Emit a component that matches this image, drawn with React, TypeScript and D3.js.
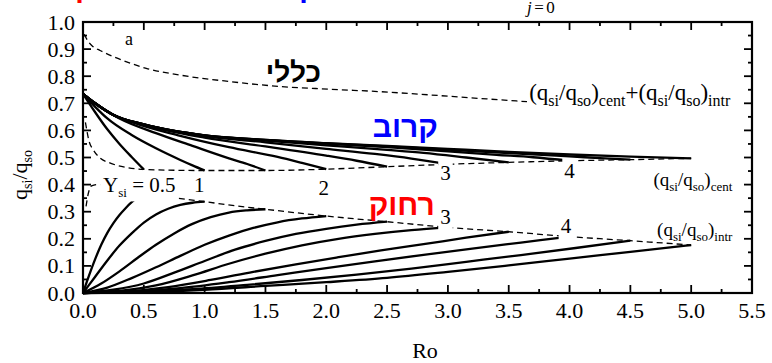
import React, { useEffect, useRef } from "react";
import * as d3 from "d3";

type Pt = [number, number];

// Axis ticks
const xTickValues = [0, 0.5, 1, 1.5, 2, 2.5, 3, 3.5, 4, 4.5, 5, 5.5];
const xMinorValues = [0.25, 0.75, 1.25, 1.75, 2.25, 2.75, 3.25, 3.75, 4.25, 4.75, 5.25];
const yTickValues = [0, 0.1, 0.2, 0.3, 0.4, 0.5, 0.6, 0.7, 0.8, 0.9, 1.0];
const yMinorValues = [0.05, 0.15, 0.25, 0.35, 0.45, 0.55, 0.65, 0.75, 0.85, 0.95];

// Central branch (q_si/q_so)_cent versus Ro, one array per Y_si (0.5 ... 5)
const cent05: Pt[] = [[0, 0.735], [0.1, 0.667], [0.2, 0.604], [0.3, 0.55], [0.4, 0.502], [0.5, 0.456]];
const cent10: Pt[] = [[0, 0.735], [0.1, 0.687], [0.2, 0.644], [0.4, 0.583], [0.6, 0.534], [0.8, 0.491], [0.9, 0.471], [1.0, 0.452]];
const cent15: Pt[] = [[0, 0.735], [0.1, 0.699], [0.3, 0.644], [0.6, 0.59], [0.9, 0.543], [1.2, 0.497], [1.35, 0.476], [1.5, 0.452]];
const cent20: Pt[] = [[0, 0.735], [0.1, 0.7], [0.2, 0.67], [0.4, 0.631], [0.8, 0.58], [1.2, 0.538], [1.6, 0.502], [1.8, 0.48], [2.0, 0.457]];
const cent25: Pt[] = [[0, 0.735], [0.1, 0.7], [0.25, 0.657], [0.5, 0.62], [1.0, 0.573], [1.5, 0.541], [2.0, 0.507], [2.25, 0.488], [2.5, 0.466]];
const cent30: Pt[] = [[0, 0.735], [0.1, 0.7], [0.25, 0.657], [0.5, 0.621], [0.75, 0.596], [1.0, 0.579], [1.5, 0.556], [2.0, 0.532], [2.4, 0.513], [2.7, 0.496], [3.0, 0.475]];
const cent35: Pt[] = [[0, 0.735], [0.1, 0.7], [0.25, 0.657], [0.5, 0.622], [0.75, 0.598], [1.0, 0.581], [1.5, 0.562], [2.0, 0.545], [2.5, 0.528], [2.8, 0.517], [3.15, 0.5], [3.5, 0.482]];
const cent40: Pt[] = [[0, 0.735], [0.1, 0.7], [0.25, 0.657], [0.5, 0.622], [0.75, 0.598], [1.0, 0.582], [1.5, 0.564], [2.0, 0.551], [2.5, 0.538], [3.0, 0.523], [3.4, 0.51], [3.7, 0.501], [4.0, 0.488]];
const cent45: Pt[] = [[0, 0.735], [0.1, 0.7], [0.25, 0.657], [0.5, 0.622], [0.75, 0.598], [1.0, 0.582], [1.5, 0.565], [2.0, 0.552], [2.5, 0.541], [3.0, 0.529], [3.5, 0.516], [4.0, 0.504], [4.25, 0.498], [4.5, 0.492]];
const cent50: Pt[] = [[0, 0.735], [0.1, 0.7], [0.25, 0.657], [0.5, 0.622], [0.75, 0.598], [1.0, 0.582], [1.5, 0.565], [2.0, 0.553], [2.5, 0.543], [3.0, 0.532], [3.5, 0.521], [4.0, 0.511], [4.5, 0.503], [5.0, 0.497]];

// Intrinsic branch (q_si/q_so)_intr versus Ro, one array per Y_si (0.5 ... 5)
const intr05: Pt[] = [[0, 0], [0.05, 0.065], [0.1, 0.125], [0.15, 0.178], [0.2, 0.222], [0.25, 0.258], [0.3, 0.288], [0.35, 0.313], [0.4, 0.335], [0.45, 0.353], [0.5, 0.368]];
const intr10: Pt[] = [[0, 0], [0.1, 0.06], [0.2, 0.12], [0.3, 0.175], [0.4, 0.22], [0.5, 0.26], [0.6, 0.29], [0.7, 0.311], [0.8, 0.325], [0.9, 0.333], [1.0, 0.337]];
const intr15: Pt[] = [[0, 0], [0.15, 0.035], [0.3, 0.08], [0.45, 0.13], [0.6, 0.178], [0.75, 0.22], [0.9, 0.255], [1.05, 0.28], [1.2, 0.297], [1.35, 0.305], [1.5, 0.309]];
const intr20: Pt[] = [[0, 0], [0.2, 0.02], [0.4, 0.055], [0.6, 0.095], [0.8, 0.137], [1.0, 0.178], [1.2, 0.212], [1.4, 0.24], [1.6, 0.261], [1.8, 0.275], [2.0, 0.284]];
const intr25: Pt[] = [[0, 0], [0.25, 0.012], [0.5, 0.035], [0.75, 0.075], [1.0, 0.118], [1.25, 0.16], [1.5, 0.192], [1.75, 0.218], [2.0, 0.237], [2.25, 0.252], [2.5, 0.263]];
const intr30: Pt[] = [[0, 0], [0.3, 0.008], [0.6, 0.028], [0.9, 0.065], [1.2, 0.108], [1.5, 0.145], [1.8, 0.176], [2.1, 0.2], [2.4, 0.218], [2.7, 0.232], [3.0, 0.242]];
const intr35: Pt[] = [[0, 0], [0.35, 0.006], [0.7, 0.022], [1.05, 0.048], [1.4, 0.078], [1.75, 0.106], [2.1, 0.132], [2.45, 0.157], [2.8, 0.18], [3.15, 0.204], [3.5, 0.226]];
const intr40: Pt[] = [[0, 0], [0.4, 0.005], [0.8, 0.018], [1.2, 0.04], [1.6, 0.066], [2.0, 0.092], [2.4, 0.117], [2.8, 0.141], [3.2, 0.164], [3.6, 0.186], [4.0, 0.208]];
const intr45: Pt[] = [[0, 0], [0.45, 0.004], [0.9, 0.014], [1.35, 0.03], [1.8, 0.048], [2.25, 0.068], [2.7, 0.09], [3.15, 0.115], [3.6, 0.14], [4.05, 0.166], [4.5, 0.193]];
const intr50: Pt[] = [[0, 0], [0.5, 0.003], [1.0, 0.012], [1.5, 0.026], [2.0, 0.04], [2.5, 0.056], [3.0, 0.078], [3.5, 0.102], [4.0, 0.127], [4.5, 0.152], [5.0, 0.177]];

// End-point loci (dashed)
const centLocus: Pt[] = [[0.02, 0.63], [0.05, 0.56], [0.085, 0.528], [0.14, 0.498], [0.22, 0.48], [0.35, 0.464], [0.5, 0.456], [0.75, 0.453], [1.0, 0.452], [1.5, 0.452], [2.0, 0.457], [2.5, 0.466], [3.0, 0.475], [3.5, 0.482], [4.0, 0.488], [4.5, 0.492], [5.0, 0.497]];
const intrLocus: Pt[] = [[0.025, 0.32], [0.045, 0.37], [0.07, 0.395], [0.12, 0.4], [0.25, 0.393], [0.4, 0.38], [0.5, 0.368], [0.78, 0.35], [1.0, 0.337], [1.25, 0.322], [1.5, 0.309], [2.0, 0.284], [2.5, 0.263], [3.0, 0.242], [3.5, 0.226], [4.0, 0.208], [4.5, 0.193], [5.0, 0.177]];
const sumLocus: Pt[] = [[0.01, 0.955], [0.04, 0.93], [0.08, 0.91], [0.14, 0.895], [0.25, 0.872], [0.39, 0.848], [0.52, 0.829], [0.8, 0.804], [1.21, 0.78], [1.62, 0.762], [2.03, 0.752], [2.44, 0.743], [2.85, 0.731], [3.26, 0.718], [3.65, 0.706]];

const centCurves = [cent05, cent10, cent15, cent20, cent25, cent30, cent35, cent40, cent45, cent50];
const intrCurves = [intr05, intr10, intr15, intr20, intr25, intr30, intr35, intr40, intr45, intr50];

// Level labels: text, Ro, value
const levelLabels: [string, number, number][] = [
  ["1", 0.955, 0.373],
  ["2", 1.98, 0.362],
  ["3", 2.98, 0.417],
  ["3", 2.98, 0.255],
  ["4", 4.0, 0.424],
  ["4", 3.97, 0.221],
];

const SERIF = '"Liberation Serif", "DejaVu Serif", serif';
const HEB = '"Liberation Sans", "DejaVu Sans", sans-serif';

type Part = { t: string; sub?: boolean; italic?: boolean };

function rich(
  g: d3.Selection<any, unknown, null, undefined>,
  px: number,
  py: number,
  parts: Part[],
  size: number,
  subSize: number,
  subShift: number,
  anchor = "start"
) {
  const t = g
    .append("text")
    .attr("x", px)
    .attr("y", py)
    .style("font-family", SERIF)
    .style("font-size", `${size}px`)
    .attr("text-anchor", anchor)
    .attr("fill", "#000");
  let down = false;
  parts.forEach((p) => {
    const s = t.append("tspan").text(p.t);
    if (p.sub) {
      s.style("font-size", `${subSize}px`);
      if (!down) {
        s.attr("dy", subShift);
        down = true;
      }
    } else if (down) {
      s.attr("dy", -subShift);
      down = false;
    }
    if (p.italic) s.style("font-style", "italic");
  });
  return t;
}

function whiteBehind(g: d3.Selection<any, unknown, null, undefined>, t: d3.Selection<any, unknown, null, undefined>, pad: number) {
  const b = (t.node() as SVGTextElement).getBBox();
  g.insert("rect", () => t.node() as any)
    .attr("x", b.x - pad)
    .attr("y", b.y - pad / 2)
    .attr("width", b.width + 2 * pad)
    .attr("height", b.height + pad)
    .attr("fill", "#fff");
}

function hebrew(g: d3.Selection<any, unknown, null, undefined>, px: number, py: number, s: string, size: number, color: string) {
  return g.append("text").attr("x", px).attr("y", py).attr("text-anchor", "middle")
    .style("font-family", HEB).style("font-weight", "bold").style("font-size", `${size}px`)
    .attr("fill", color).text(s);
}

const ratioCent: Part[] = [{ t: "(q" }, { t: "si", sub: true }, { t: "/q" }, { t: "so", sub: true }, { t: ")" }, { t: "cent", sub: true }];
const ratioIntr: Part[] = [{ t: "(q" }, { t: "si", sub: true }, { t: "/q" }, { t: "so", sub: true }, { t: ")" }, { t: "intr", sub: true }];

export default function App() {
  const ref = useRef<SVGSVGElement>(null);

  useEffect(() => {
    const svg = d3.select(ref.current as SVGSVGElement);
    svg.selectAll("*").remove();

    const x = d3.scaleLinear().domain([0, 5.5]).range([83, 752]);
    const y = d3.scaleLinear().domain([0, 1]).range([293, 22]);
    const line = d3
      .line<Pt>()
      .x((d) => x(d[0]))
      .y((d) => y(d[1]))
      .curve(d3.curveMonotoneX);

    svg.append("rect").attr("width", 772).attr("height", 363).attr("fill", "#fff");

    // words of the heading line above the frame (only their lower edge falls on the canvas)
    hebrew(svg, 108, -3, "רחוק", 30, "#ff0000");
    hebrew(svg, 286, -3, "קרוב", 30, "#0000ff");

    const plot = svg.append("g");

    // curve families
    plot.selectAll("path.cent").data(centCurves).join("path").attr("class", "cent")
      .attr("d", (d) => line(d)).attr("fill", "none").attr("stroke", "#000")
      .attr("stroke-width", 2.3).attr("stroke-linejoin", "round");
    plot.selectAll("path.intr").data(intrCurves).join("path").attr("class", "intr")
      .attr("d", (d) => line(d)).attr("fill", "none").attr("stroke", "#000")
      .attr("stroke-width", 2.3).attr("stroke-linejoin", "round");

    // loci of the end points
    [centLocus, intrLocus, sumLocus].forEach((loc) => {
      plot.append("path").attr("d", line(loc)).attr("fill", "none")
        .attr("stroke", "#000").attr("stroke-width", 1.3).attr("stroke-dasharray", "6,4");
    });

    // Y_si labels with white backing
    const lab = svg.append("g");
    const ysiLabel = rich(lab, x(0.165), y(0.373), [{ t: "Y" }, { t: "si", sub: true }, { t: " = 0.5" }], 21, 13, 5);
    whiteBehind(lab, ysiLabel, 3);
    levelLabels.forEach(([s, rx, ry]) => {
      const t = rich(lab, x(rx), y(ry), [{ t: s }], 21, 13, 5, "middle");
      whiteBehind(lab, t, 2);
    });

    // branch labels
    rich(lab, x(3.668), y(0.714), [...ratioCent, { t: "+" }, ...ratioIntr], 23, 16, 6);
    rich(lab, x(4.69), y(0.395), ratioCent, 19, 13, 5);
    rich(lab, x(4.72), y(0.21), ratioIntr, 19, 13, 5);

    rich(lab, x(0.345), y(0.915), [{ t: "a" }], 18, 12, 4);
    rich(lab, x(3.65), 12.5, [{ t: "j", italic: true }, { t: "=0" }], 17, 12, 4)
      .style("letter-spacing", "2.5px");

    // Hebrew annotations
    hebrew(lab, x(1.73), y(0.778), "כללי", 28, "#000");
    hebrew(lab, x(2.65), y(0.576), "קרוב", 30, "#0000ff");
    hebrew(lab, x(2.62), y(0.289), "רחוק", 30, "#ff0000");

    // frame and ticks
    const ax = svg.append("g").attr("stroke", "#000").attr("fill", "none");
    const [x0, x1] = x.range();
    const [y0, y1] = y.range();
    const majorLen = 8;
    const minorLen = 4;
    const tick = (xa: number, ya: number, xb: number, yb: number) =>
      ax.append("line").attr("x1", xa).attr("y1", ya).attr("x2", xb).attr("y2", yb).attr("stroke-width", 1.8);
    xTickValues.forEach((v) => {
      tick(x(v), y0, x(v), y0 - majorLen);
      tick(x(v), y1, x(v), y1 + majorLen);
    });
    xMinorValues.forEach((v) => {
      tick(x(v), y0, x(v), y0 - minorLen);
      tick(x(v), y1, x(v), y1 + minorLen);
    });
    yTickValues.forEach((v) => {
      tick(x0, y(v), x0 + majorLen, y(v));
      tick(x1, y(v), x1 - majorLen, y(v));
    });
    yMinorValues.forEach((v) => {
      tick(x0, y(v), x0 + minorLen, y(v));
      tick(x1, y(v), x1 - minorLen, y(v));
    });
    ax.append("rect").attr("x", x0).attr("y", y1).attr("width", x1 - x0).attr("height", y0 - y1).attr("stroke-width", 2.2);

    const fmt = d3.format(".1f");
    const tl = svg.append("g");
    xTickValues.forEach((v) => {
      rich(tl, x(v), 318, [{ t: fmt(v) }], 22, 14, 5, "middle");
    });
    yTickValues.forEach((v) => {
      rich(tl, 75, y(v) + 7.5, [{ t: fmt(v) }], 22, 14, 5, "end");
    });

    rich(tl, 425, 358, [{ t: "Ro" }], 22, 14, 5, "middle");

    const yl = svg.append("g").attr("transform", "translate(27,175) rotate(-90)");
    rich(yl, 0, 0, [{ t: "q" }, { t: "si", sub: true }, { t: "/q" }, { t: "so", sub: true }], 22, 14, 5, "middle");
  }, []);

  return (
    <svg
      ref={ref}
      width={772}
      height={363}
      style={{ position: "absolute", left: 0, top: 0, display: "block" }}
    />
  );
}
